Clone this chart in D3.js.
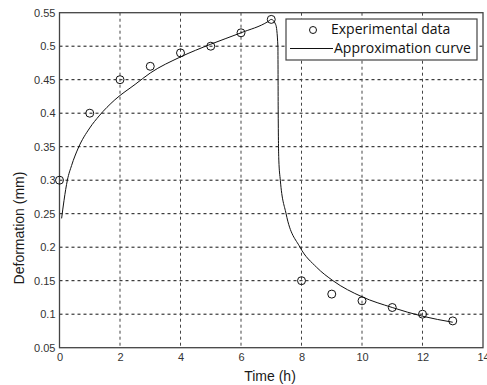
<!DOCTYPE html>
<html>
<head>
<meta charset="utf-8">
<script src="https://cdn.jsdelivr.net/npm/d3@7"></script>
<style>
  body { margin: 0; background: #fff; }
  svg { display: block; }
</style>
</head>
<body>
<div class="container"></div>
<script>
// experimental measurements
var expTime = [0, 1, 2, 3, 4, 5, 6, 7, 8, 9, 10, 11, 12, 13];
var expDef = [0.30, 0.40, 0.45, 0.47, 0.49, 0.50, 0.52, 0.54, 0.15, 0.13, 0.12, 0.11, 0.10, 0.09];

// approximation curve
var curveTime = [0.07, 0.15, 0.26, 0.4, 0.62, 1.0, 1.31, 1.83, 2.5, 3, 4, 5, 6, 6.9, 7.0, 7.15, 7.22, 7.23, 7.25, 7.3, 7.49, 7.95, 8.5, 9.04, 10, 11, 12, 13];
var curveDef = [0.243, 0.27, 0.30, 0.322, 0.348, 0.378, 0.396, 0.42, 0.443, 0.46, 0.484, 0.503, 0.52, 0.537, 0.54, 0.532, 0.50, 0.40, 0.33, 0.30, 0.25, 0.20, 0.17, 0.15, 0.126, 0.11, 0.097, 0.088];

var xTicks = [0, 2, 4, 6, 8, 10, 12, 14];
var yTicks = [0.05, 0.1, 0.15, 0.2, 0.25, 0.3, 0.35, 0.4, 0.45, 0.5, 0.55];

var width = 487, height = 385;
var svg = d3.select(".container")
    .append("svg")
    .attr("width", width)
    .attr("height", height);

var x = d3.scaleLinear().domain([0, 14]).range([59.5, 483]);
var y = d3.scaleLinear().domain([0.05, 0.55]).range([347.7, 12.7]);

// grid
svg.append("g")
    .selectAll("line")
    .data(yTicks.slice(1, -1))
    .enter()
    .append("line")
    .attr("x1", x(0)).attr("x2", x(14))
    .attr("y1", function(d) { return y(d); })
    .attr("y2", function(d) { return y(d); })
    .attr("stroke", "#111")
    .attr("stroke-width", 1)
    .attr("stroke-dasharray", "3,3");

svg.append("g")
    .selectAll("line")
    .data(xTicks.slice(1, -1))
    .enter()
    .append("line")
    .attr("x1", function(d) { return x(d); })
    .attr("x2", function(d) { return x(d); })
    .attr("y1", y(0.55)).attr("y2", y(0.05))
    .attr("stroke", "#444")
    .attr("stroke-width", 1)
    .attr("stroke-dasharray", "3,3");

// axes
var xAxis = svg.append("g")
    .attr("transform", "translate(0," + y(0.05) + ")")
    .call(d3.axisBottom(x).tickValues(xTicks).tickSize(0).tickPadding(6).tickFormat(d3.format("d")));
xAxis.select(".domain").remove();
xAxis.selectAll("text")
    .style("font-family", "Liberation Sans, Arial, sans-serif")
    .style("font-size", "11px")
    .attr("fill", "#333");

var yAxis = svg.append("g")
    .attr("transform", "translate(" + x(0) + ",0)")
    .call(d3.axisLeft(y).tickValues(yTicks).tickSize(0).tickPadding(4).tickFormat(function(d) { return d3.format("")(+d.toFixed(2)); }));
yAxis.select(".domain").remove();
yAxis.selectAll("text")
    .style("font-family", "Liberation Sans, Arial, sans-serif")
    .style("font-size", "11px")
    .attr("fill", "#333");

// frame
svg.append("rect")
    .attr("x", x(0)).attr("y", y(0.55))
    .attr("width", x(14) - x(0))
    .attr("height", y(0.05) - y(0.55))
    .attr("fill", "none")
    .attr("stroke", "#444")
    .attr("stroke-width", 1.3);

// curve
var line = d3.line()
    .x(function(d) { return x(d[0]); })
    .y(function(d) { return y(d[1]); })
    .curve(d3.curveMonotoneX);

svg.append("path")
    .datum(d3.zip(curveTime, curveDef))
    .attr("fill", "none")
    .attr("stroke", "#111")
    .attr("stroke-width", 1)
    .attr("d", line);

// experimental points
svg.selectAll(".pt")
    .data(d3.zip(expTime, expDef))
    .enter()
    .append("circle")
    .attr("class", "pt")
    .attr("cx", function(d) { return x(d[0]); })
    .attr("cy", function(d) { return y(d[1]); })
    .attr("r", 4)
    .attr("fill", "none")
    .attr("stroke", "#111")
    .attr("stroke-width", 1);

// axis titles
svg.append("text")
    .attr("x", 270)
    .attr("y", 381)
    .attr("text-anchor", "middle")
    .style("font-family", "Liberation Sans, Arial, sans-serif")
    .style("font-size", "14px")
    .attr("fill", "#1a1a1a")
    .text("Time (h)");

svg.append("text")
    .attr("transform", "translate(24,228) rotate(-90)")
    .attr("text-anchor", "middle")
    .style("font-family", "Liberation Sans, Arial, sans-serif")
    .style("font-size", "14px")
    .attr("fill", "#1a1a1a")
    .text("Deformation (mm)");

// legend
var lg = svg.append("g");
lg.append("rect")
    .attr("x", 286).attr("y", 19)
    .attr("width", 191).attr("height", 41)
    .attr("fill", "#fff")
    .attr("stroke", "#444")
    .attr("stroke-width", 1.2);
lg.append("circle")
    .attr("cx", 313).attr("cy", 30).attr("r", 3.5)
    .attr("fill", "none").attr("stroke", "#111");
lg.append("line")
    .attr("x1", 290).attr("x2", 333)
    .attr("y1", 48.5).attr("y2", 48.5)
    .attr("stroke", "#111");
lg.append("text")
    .attr("x", 331).attr("y", 34)
    .style("font-family", "Open Sans, sans-serif")
    .style("font-size", "14px")
    .attr("fill", "#111")
    .text("Experimental data");
lg.append("text")
    .attr("x", 334).attr("y", 53)
    .style("font-family", "Open Sans, sans-serif")
    .style("font-size", "14px")
    .attr("fill", "#111")
    .text("Approximation curve");
</script>
</body>
</html>
